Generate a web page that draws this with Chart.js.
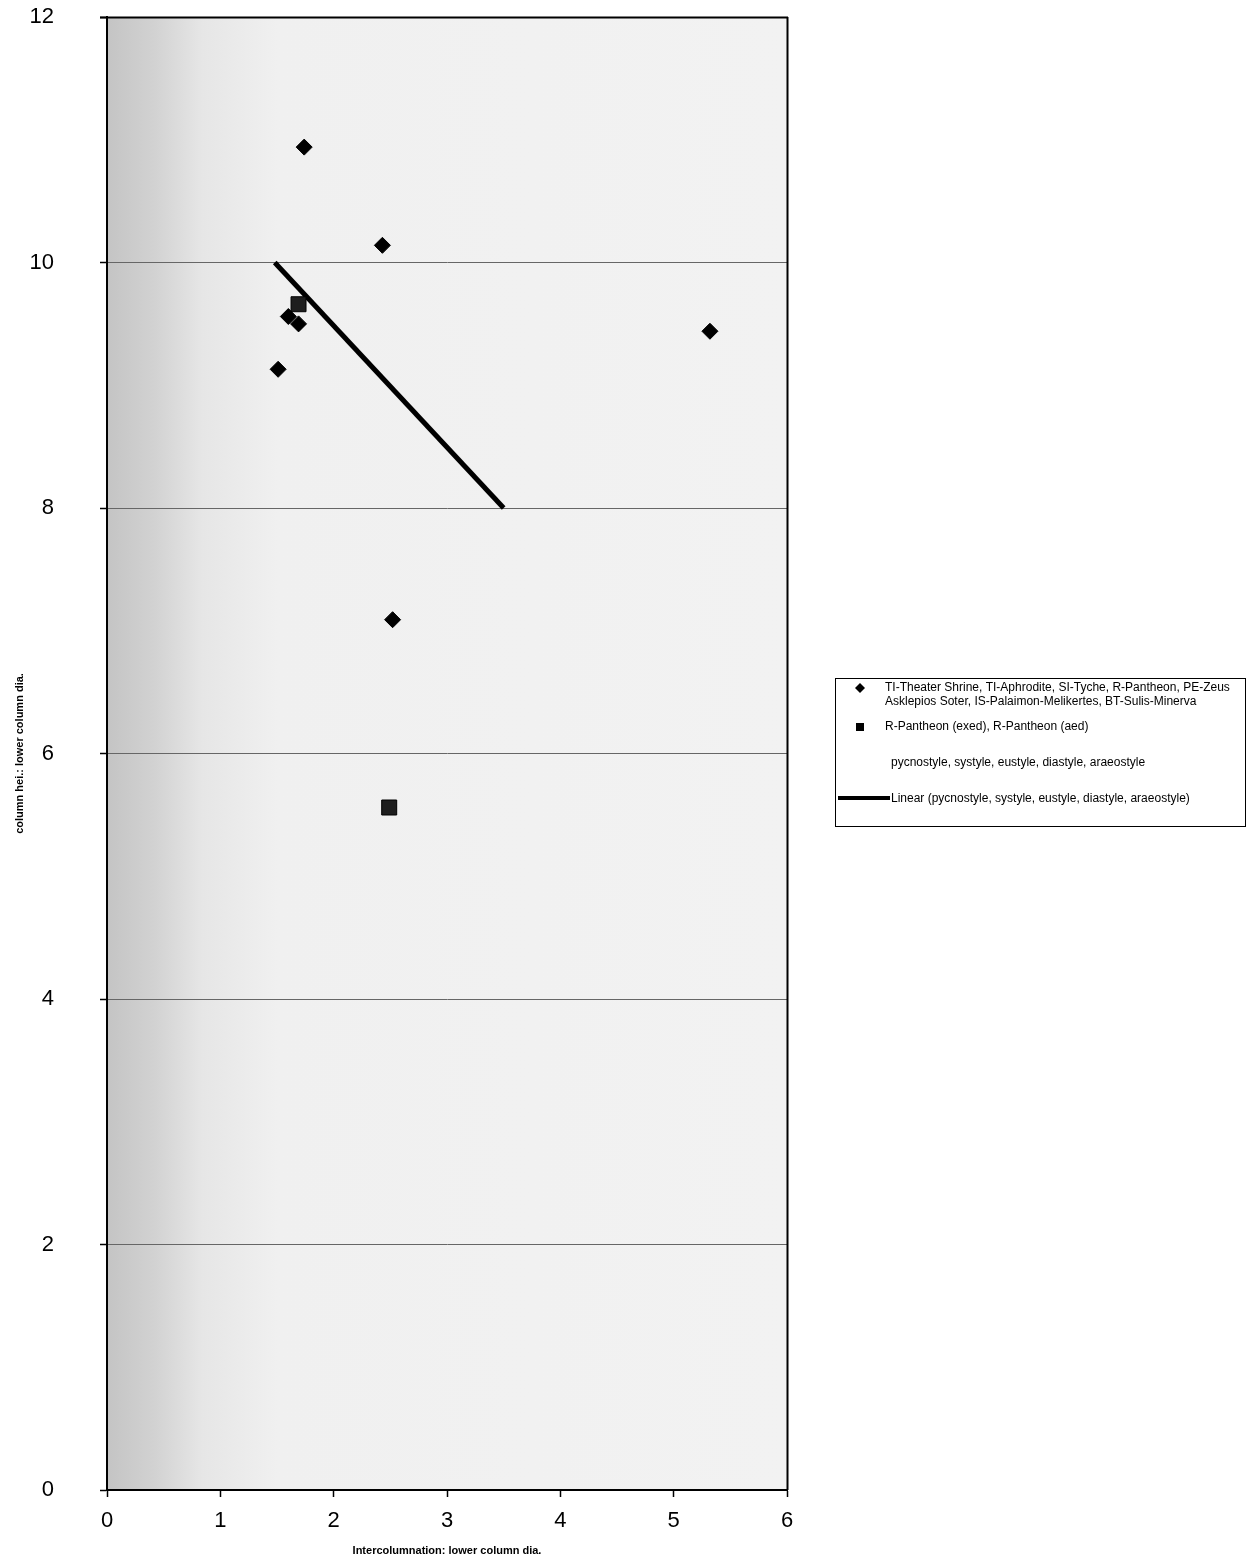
<!DOCTYPE html>
<html>
<head>
<meta charset="utf-8">
<script src="https://cdn.jsdelivr.net/npm/chart.js@4.4.1/dist/chart.umd.min.js"></script>
<style>
html,body{margin:0;padding:0;background:#fff;}
#wrap{position:relative;width:1252px;height:1562px;}
</style>
</head>
<body>
<div id="wrap"><canvas id="c" width="1252" height="1562"></canvas></div>
<script>
// Data
const templeX = [1.74, 2.43, 5.32, 1.60, 1.69, 1.51, 2.52];
const templeY = [10.94, 10.14, 9.44, 9.56, 9.50, 9.13, 7.09];
const pantheonX = [1.69, 2.49];
const pantheonY = [9.66, 5.56];
const orderX = [];
const orderY = [];
const trendX = [1.48, 3.5];
const trendY = [10.0, 8.0];
const xTicks = [0, 1, 2, 3, 4, 5, 6];
const yTicks = [0, 2, 4, 6, 8, 10, 12];
const legendLabels = [
  ['TI-Theater Shrine, TI-Aphrodite, SI-Tyche, R-Pantheon, PE-Zeus', 'Asklepios Soter, IS-Palaimon-Melikertes, BT-Sulis-Minerva'],
  ['R-Pantheon (exed), R-Pantheon (aed)'],
  ['pycnostyle, systyle, eustyle, diastyle, araeostyle'],
  ['Linear (pycnostyle, systyle, eustyle, diastyle, araeostyle)']
];
const xTitle = 'Intercolumnation: lower column dia.';
const yTitle = 'column hei.: lower column dia.';

const pts = (xs, ys) => xs.map((x, i) => ({x: x, y: ys[i]}));
const FONT = '"Liberation Sans", Arial, sans-serif';

const bgPlugin = {
  id: 'bg',
  beforeDraw(chart) {
    const {ctx, chartArea: a} = chart;
    const g = ctx.createLinearGradient(a.left, 0, a.right, 0);
    g.addColorStop(0, '#c4c4c4');
    g.addColorStop(0.07, '#d2d2d2');
    g.addColorStop(0.14, '#e6e6e6');
    g.addColorStop(0.25, '#f0f0f0');
    g.addColorStop(1, '#f2f2f2');
    ctx.save();
    ctx.fillStyle = g;
    ctx.fillRect(a.left, a.top, a.right - a.left, a.bottom - a.top);
    ctx.restore();
  },
  afterDatasetsDraw(chart) {
    const {ctx, chartArea: a} = chart;
    ctx.save();
    ctx.strokeStyle = '#000';
    ctx.lineWidth = 2;
    ctx.beginPath();
    ctx.moveTo(a.left - 7, a.top + 0.5);
    ctx.lineTo(a.right + 1, a.top + 0.5);
    ctx.moveTo(a.right + 0.5, a.top);
    ctx.lineTo(a.right + 0.5, a.bottom);
    ctx.stroke();
    ctx.restore();
  },
  afterDraw(chart) {
    const ctx = chart.ctx;
    ctx.save();
    // legend box
    const bx = 835, by = 678, bw = 410, bh = 148;
    ctx.fillStyle = '#fff';
    ctx.fillRect(bx, by, bw, bh);
    ctx.strokeStyle = '#000';
    ctx.lineWidth = 1;
    ctx.strokeRect(bx + 0.5, by + 0.5, bw, bh);
    ctx.fillStyle = '#000';
    ctx.font = '12px ' + FONT;
    ctx.textBaseline = 'middle';
    // entry 1
    ctx.beginPath();
    ctx.moveTo(860, 683); ctx.lineTo(865, 688); ctx.lineTo(860, 693); ctx.lineTo(855, 688); ctx.closePath();
    ctx.fill();
    ctx.fillText(legendLabels[0][0], 885, 688);
    ctx.fillText(legendLabels[0][1], 885, 702);
    // entry 2
    ctx.fillRect(856, 723, 8, 8);
    ctx.fillText(legendLabels[1][0], 885, 727);
    // entry 3
    ctx.fillText(legendLabels[2][0], 891, 763);
    // entry 4
    ctx.lineWidth = 4;
    ctx.beginPath(); ctx.moveTo(838, 798); ctx.lineTo(890, 798); ctx.stroke();
    ctx.fillText(legendLabels[3][0], 891, 799);
    ctx.restore();
  }
};

new Chart(document.getElementById('c'), {
  type: 'scatter',
  data: {
    datasets: [
      {label: legendLabels[0].join(' '), data: pts(templeX, templeY), pointStyle: 'rectRot', pointRadius: 8, pointHoverRadius: 8, backgroundColor: '#000', borderColor: '#000', borderWidth: 1},
      {label: legendLabels[1][0], data: pts(pantheonX, pantheonY), pointStyle: 'rect', pointRadius: 10.6, pointHoverRadius: 10.6, backgroundColor: '#1e1e1e', borderColor: '#000', borderWidth: 1},
      {label: legendLabels[2][0], data: pts(orderX, orderY), pointRadius: 0},
      {label: legendLabels[3][0], data: pts(trendX, trendY), showLine: true, pointRadius: 0, borderColor: '#000', borderWidth: 5, backgroundColor: '#000'}
    ]
  },
  options: {
    responsive: false,
    animation: false,
    devicePixelRatio: 1,
    layout: {padding: {left: 6, top: 17, right: 465, bottom: 4}},
    plugins: {legend: {display: false}, tooltip: {enabled: false}},
    scales: {
      x: {
        type: 'linear', min: 0, max: 6,
        afterBuildTicks: s => { s.ticks = xTicks.map(v => ({value: v})); },
        afterFit: s => { s.height = 1562 - 1490 - 4; },
        grid: {drawOnChartArea: false, tickLength: 7, tickColor: '#000', tickWidth: 1.5},
        border: {color: '#000', width: 2},
        ticks: {font: {family: FONT, size: 22}, color: '#000', padding: 11, maxRotation: 0},
        title: {display: true, text: xTitle, font: {family: FONT, size: 11, weight: 'bold'}, color: '#000', padding: {top: 2, bottom: 0}}
      },
      y: {
        type: 'linear', min: 0, max: 12,
        afterBuildTicks: s => { s.ticks = yTicks.map(v => ({value: v})); },
        afterFit: s => { s.width = 107 - 6; s.paddingTop = 0; s.paddingBottom = 0; },
        grid: {color: c => (c.tick && (c.tick.value === 0 || c.tick.value === 12)) ? 'rgba(0,0,0,0)' : '#666', lineWidth: 1, tickLength: 7, tickColor: '#000', tickWidth: 1.5},
        border: {color: '#000', width: 2},
        ticks: {font: {family: FONT, size: 22}, color: '#000', padding: 46},
        title: {display: true, text: yTitle, font: {family: FONT, size: 11, weight: 'bold'}, color: '#000', padding: {top: 7, bottom: 0}}
      }
    }
  },
  plugins: [bgPlugin]
});
</script>
</body>
</html>
